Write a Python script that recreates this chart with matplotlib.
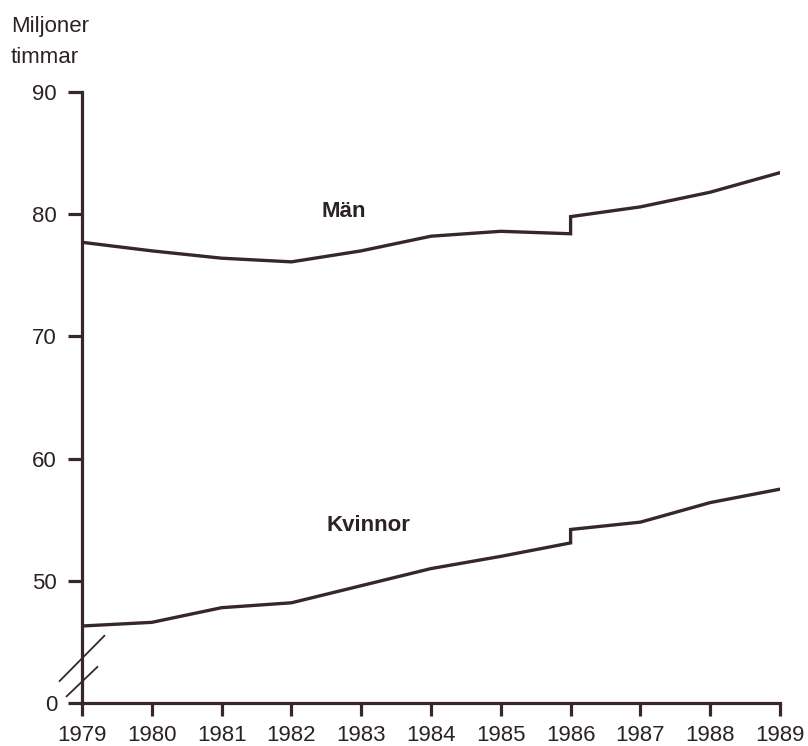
import matplotlib.pyplot as plt

plt.rcParams['font.family'] = ['Liberation Sans', 'DejaVu Sans']

# step at 1986 (series break) -> two points at 1986
years_man = [1979, 1980, 1981, 1982, 1983, 1984, 1985, 1986, 1986, 1987, 1988, 1989]
man = [77.7, 77.0, 76.4, 76.1, 77.0, 78.2, 78.6, 78.4, 79.8, 80.6, 81.8, 83.4]
years_kv = [1979, 1980, 1981, 1982, 1983, 1984, 1985, 1986, 1986, 1987, 1988, 1989]
kvinnor = [46.3, 46.6, 47.8, 48.2, 49.6, 51.0, 52.0, 53.1, 54.2, 54.8, 56.4, 57.5]

xticks = list(range(1979, 1990))
yticks = [40, 50, 60, 70, 80, 90]
ylabels = ['0', '50', '60', '70', '80', '90']

ink = '#35272a'
txt = '#2a2224'

fig = plt.figure(figsize=(8.08, 7.46), dpi=100)
ax = fig.add_axes([82 / 808, 1 - 703 / 746, 698 / 808, 611 / 746])

ax.plot(years_man, man, color=ink, lw=2.4, solid_joinstyle='miter')
ax.plot(years_kv, kvinnor, color=ink, lw=2.4, solid_joinstyle='miter')

ax.set_xlim(1979, 1989)
ax.set_ylim(40, 90)
ax.set_xticks(xticks)
ax.set_yticks(yticks)
ax.set_yticklabels(ylabels)

for s in ['top', 'right']:
    ax.spines[s].set_visible(False)
for s in ['left', 'bottom']:
    ax.spines[s].set_color(ink)
    ax.spines[s].set_linewidth(2.3)
ax.tick_params(colors=ink, width=2.3, length=10, labelsize=16, labelcolor=txt)
ax.tick_params(axis='x', length=9, pad=6.5)
ax.tick_params(axis='y', pad=8)

ax.text(1982.43, 80.25, 'Män', fontsize=16, fontweight='bold', color=txt,
        ha='left', va='center')
ax.text(1982.5, 54.5, 'Kvinnor', fontsize=16, fontweight='bold', color=txt,
        ha='left', va='center')

fig.text(11 / 808, 1 - 32 / 746, 'Miljoner', fontsize=16, color=txt,
         ha='left', va='baseline')
fig.text(11 / 808, 1 - 63 / 746, 'timmar', fontsize=16, color=txt,
         ha='left', va='baseline')

# axis break marks
ax.plot([-0.032, 0.032], [0.036, 0.110], transform=ax.transAxes, color=ink,
        lw=1.3, clip_on=False)
ax.plot([-0.022, 0.022], [0.011, 0.059], transform=ax.transAxes, color=ink,
        lw=1.3, clip_on=False)

fig.savefig('out.png', dpi=100)
